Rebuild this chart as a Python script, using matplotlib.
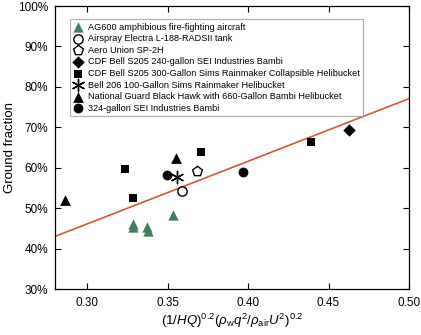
import matplotlib
matplotlib.use("Agg")
import matplotlib.pyplot as plt
import numpy as np

plt.rcParams['font.family'] = ['Liberation Sans', 'DejaVu Sans']
plt.rcParams['mathtext.fontset'] = 'custom'
plt.rcParams['mathtext.rm'] = 'Liberation Sans'
plt.rcParams['mathtext.it'] = 'Liberation Sans:italic'

# Data (x, ground fraction %)
ag600_x = [0.3286, 0.3286, 0.3369, 0.3377, 0.3535]
ag600_y = [46.2, 45.4, 45.3, 44.4, 48.3]
electra_x = [0.3591]
electra_y = [54.2]
sp2h_x = [0.3680]
sp2h_y = [59.1]
bambi240_x = [0.4627]
bambi240_y = [69.4]
sims300_x = [0.3234, 0.3282, 0.3707, 0.4389]
sims300_y = [59.6, 52.4, 63.8, 66.4]
bell206_x = [0.3556]
bell206_y = [57.6]
blackhawk_x = [0.2863, 0.3553]
blackhawk_y = [51.9, 62.5]
bambi324_x = [0.3494, 0.3970]
bambi324_y = [58.3, 58.9]

labels = [
    "AG600 amphibious fire-fighting aircraft",
    "Airspray Electra L-188-RADSII tank",
    "Aero Union SP-2H",
    "CDF Bell S205 240-gallon SEI Industries Bambi",
    "CDF Bell S205 300-Gallon Sims Rainmaker Collapsible Helibucket",
    "Bell 206 100-Gallon Sims Rainmaker Helibucket",
    "National Guard Black Hawk with 660-Gallon Bambi Helibucket",
    "324-gallon SEI Industries Bambi",
]

fit_slope = 155.0
fit_intercept = -0.4

xticks = [0.30, 0.35, 0.40, 0.45, 0.50]
yticks = [30, 40, 50, 60, 70, 80, 90, 100]

fig = plt.figure(figsize=(4.21, 3.35), dpi=100)
ax = fig.add_axes([0.1306, 0.1373, 0.8409, 0.8447])

green = '#3f7f5c'
ax.scatter(ag600_x, ag600_y, marker='^', s=55, c=green, linewidths=0, label=labels[0], zorder=3)
ax.scatter(electra_x, electra_y, marker='o', s=45, facecolors='white', edgecolors='black', linewidths=1.0, label=labels[1], zorder=3)
ax.scatter(sp2h_x, sp2h_y, marker='p', s=55, facecolors='white', edgecolors='black', linewidths=1.0, label=labels[2], zorder=3)
ax.scatter(bambi240_x, bambi240_y, marker='D', s=40, c='black', linewidths=0, label=labels[3], zorder=3)
ax.scatter(sims300_x, sims300_y, marker='s', s=38, c='black', linewidths=0, label=labels[4], zorder=3)
ax.scatter(bell206_x, bell206_y, marker=(6, 2, 0), s=80, c='black', linewidths=1.0, label=labels[5], zorder=3)
ax.scatter(blackhawk_x, blackhawk_y, marker='^', s=60, c='black', linewidths=0, label=labels[6], zorder=3)
ax.scatter(bambi324_x, bambi324_y, marker='o', s=50, c='black', linewidths=0, label=labels[7], zorder=3)

xl = np.array([0.28, 0.50])
ax.plot(xl, fit_slope * xl + fit_intercept, color='#d9553a', lw=1.2, zorder=2)

ax.set_xlim(0.28, 0.50)
ax.set_ylim(30, 100)
ax.set_xticks(xticks)
ax.set_xticklabels([f"{t:.2f}" for t in xticks])
ax.set_yticks(yticks)
ax.set_yticklabels([f"{t}%" for t in yticks])
ax.tick_params(direction='in', top=True, right=True, labelsize=8.5, length=4, width=0.8)
ax.tick_params(axis='y', pad=5)
ax.tick_params(axis='x', pad=6)
for s in ax.spines.values():
    s.set_linewidth(0.9)

ax.set_ylabel("Ground fraction", fontsize=9.5)
ax.yaxis.set_label_coords(-0.11, 0.5)
ax.set_xlabel(r"(1/$HQ$)$^{0.2}$($\rho_\mathrm{w}q^2/\rho_\mathrm{air}U^2$)$^{0.2}$", fontsize=9.5, labelpad=2)

leg = ax.legend(loc='upper left', bbox_to_anchor=(0.03, 0.97), fontsize=6.6, frameon=True,
                fancybox=False, edgecolor='#999999', handlelength=1.0, handletextpad=0.5,
                labelspacing=0.28, borderpad=0.4, scatterpoints=1)
leg.get_frame().set_linewidth(0.8)

fig.savefig("out.png", dpi=100)
